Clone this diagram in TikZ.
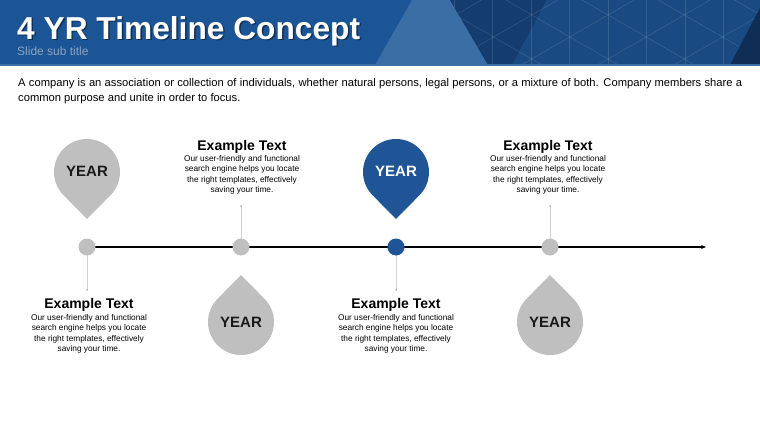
\documentclass[tikz,border=0pt]{standalone}
\usepackage{fontspec}
\setmainfont{Liberation Sans}
\usetikzlibrary{arrows.meta}

\definecolor{hdrblue}{HTML}{1C5596}
\definecolor{hdrlight}{HTML}{3A6EA5}
\definecolor{hdrdark}{HTML}{143C6E}
\definecolor{hdrmid}{HTML}{194B82}
\definecolor{hdrdeep}{HTML}{0F2D55}
\definecolor{hdrline}{HTML}{3E71A8}
\definecolor{subgray}{HTML}{8DA3C0}
\definecolor{pingray}{HTML}{BFBFBF}
\definecolor{pinblue}{HTML}{1F5597}
\definecolor{stemgray}{HTML}{D3D3D3}

\begin{document}
\begin{tikzpicture}[
    x=1pt,
    y=-1pt,
    line join=round,
    line cap=round,
    dot/.style={circle, inner sep=0pt, minimum size=17pt},
    yeartxt/.style={font=\fontsize{15}{15}\selectfont\bfseries, inner sep=0pt},
    headtxt/.style={font=\fontsize{14}{14}\selectfont\bfseries, inner sep=0pt, anchor=base},
    bodytxt/.style={font=\fontsize{8.3}{10.4}\selectfont, align=center, inner sep=0pt, anchor=north},
    stem/.style={draw=stemgray, line width=0.7pt},
    gridln/.style={draw=white, opacity=0.13, line width=0.6pt}
]
    \useasboundingbox (0,0) rectangle (760,428);

    % header band
    \fill[hdrblue] (0,0) rectangle (760,65);
    \fill[hdrlight] (375,65) -- (412,0) -- (450,0) -- (488,65) -- cycle;
    \fill[hdrdark] (450,0) -- (547,0) -- (512,65) -- (488,65) -- cycle;
    \fill[hdrmid] (547,0) -- (760,0) -- (760,65) -- (512,65) -- cycle;
    \begin{scope}
        \clip (450,0) -- (760,0) -- (760,65) -- (488,65) -- cycle;
        \foreach \k in {-3,...,4} {
            \draw[gridln] (450,{15+0.577*(450-608)+44*\k}) -- (760,{15+0.577*(760-608)+44*\k});
            \draw[gridln] (450,{15-0.577*(450-608)+44*\k}) -- (760,{15-0.577*(760-608)+44*\k});
        }
        \foreach \m in {-4,...,4}
            \draw[gridln] ({608+38.5*\m},0) -- ({608+38.5*\m},65);
    \end{scope}
    \fill[hdrdeep] (730,65) -- (760,8) -- (760,65) -- cycle;
    \fill[hdrline] (0,64) rectangle (760,66.5);

    % title
    \node[anchor=base west, inner sep=0pt, text depth=0pt, text=black, opacity=0.45,
          font=\fontsize{31.7}{32}\selectfont\bfseries] at (18.5,41) {4 YR Timeline Concept};
    \node[anchor=base west, inner sep=0pt, text depth=0pt, text=white,
          font=\fontsize{31.7}{32}\selectfont\bfseries] (title) at (17,39.5) {4 YR Timeline Concept};
    \node[anchor=base west, inner sep=0pt, text=subgray,
          font=\fontsize{12}{12}\selectfont] (subtitle) at (17,56) {Slide sub title};

    % intro text
    \node[anchor=north west, inner sep=0pt, text width=724pt, align=justify,
          font=\fontsize{11.2}{15}\selectfont] (intro) at (18,78)
        {A company is an association or collection of individuals, whether natural persons, legal persons, or a mixture of both. Company members share a common purpose and unite in order to focus.};

    % timeline
    \coordinate (t1) at (87,247);
    \coordinate (t2) at (241,247);
    \coordinate (t3) at (396,247);
    \coordinate (t4) at (550,247);
    \coordinate (tend) at (706,247);
    \draw[line width=1.2pt, -{Stealth[length=5pt,width=4pt]}] (t1) -- (tend);

    % stems
    \coordinate (s1) at (87,290);
    \coordinate (s2) at (241,206);
    \coordinate (s3) at (396,290);
    \coordinate (s4) at (550,206);
    \foreach \i in {1,...,4} {
        \draw[stem] (t\i) -- (s\i);
        \fill[black!35] (s\i) circle (0.9);
    }

    % dots
    \node[dot, fill=pingray] (d1) at (t1) {};
    \node[dot, fill=pingray] (d2) at (t2) {};
    \node[dot, fill=pinblue] (d3) at (t3) {};
    \node[dot, fill=pingray] (d4) at (t4) {};

    % pins
    \def\pr{33}
    \def\pd{47}
    \pgfmathsetmacro\pa{acos(\pr/\pd)}
    \pgfmathsetmacro\dna{\pa-90}
    \pgfmathsetmacro\dnb{270-\pa}
    \pgfmathsetmacro\upa{90+\pa}
    \pgfmathsetmacro\upb{450-\pa}

    \coordinate (p1) at (87,172);
    \coordinate (p2) at (241,322);
    \coordinate (p3) at (396,172);
    \coordinate (p4) at (550,322);

    \fill[pingray] ([yshift=-\pd pt]p1) -- ([shift={(\dna:\pr pt)}]p1)
        arc[start angle=\dna, end angle=\dnb, radius=\pr pt] -- cycle;
    \fill[pinblue] ([yshift=-\pd pt]p3) -- ([shift={(\dna:\pr pt)}]p3)
        arc[start angle=\dna, end angle=\dnb, radius=\pr pt] -- cycle;
    \fill[pingray] ([yshift=\pd pt]p2) -- ([shift={(\upa:\pr pt)}]p2)
        arc[start angle=\upa, end angle=\upb, radius=\pr pt] -- cycle;
    \fill[pingray] ([yshift=\pd pt]p4) -- ([shift={(\upa:\pr pt)}]p4)
        arc[start angle=\upa, end angle=\upb, radius=\pr pt] -- cycle;

    \node[yeartxt, text=black!90] (y1) at ([yshift=1pt]p1) {YEAR};
    \node[yeartxt, text=black!90] (y2) at (p2) {YEAR};
    \node[yeartxt, text=white] (y3) at ([yshift=1pt]p3) {YEAR};
    \node[yeartxt, text=black!90] (y4) at (p4) {YEAR};

    % text blocks
    \node[headtxt] (h1) at (89,308) {Example Text};
    \node[bodytxt] (b1) at (89,314) {Our user-friendly and functional\\search engine helps you locate\\the right templates, effectively\\saving your time.};
    \node[headtxt] (h2) at (242,150) {Example Text};
    \node[bodytxt] (b2) at (242,155) {Our user-friendly and functional\\search engine helps you locate\\the right templates, effectively\\saving your time.};
    \node[headtxt] (h3) at (396,308) {Example Text};
    \node[bodytxt] (b3) at (396,314) {Our user-friendly and functional\\search engine helps you locate\\the right templates, effectively\\saving your time.};
    \node[headtxt] (h4) at (548,150) {Example Text};
    \node[bodytxt] (b4) at (548,155) {Our user-friendly and functional\\search engine helps you locate\\the right templates, effectively\\saving your time.};
\end{tikzpicture}
\end{document}
